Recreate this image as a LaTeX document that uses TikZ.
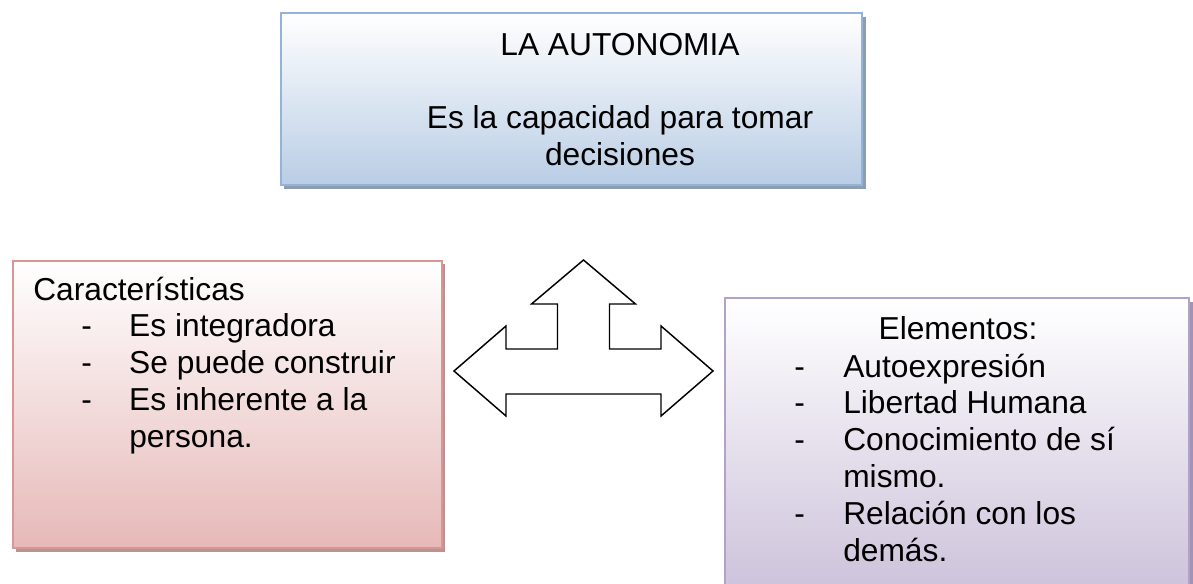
\documentclass[tikz,border=0pt]{standalone}
\usepackage{fontspec}
\setmainfont{Liberation Sans}
\usetikzlibrary{positioning}

\definecolor{autoborder}{HTML}{95B3D7}
\definecolor{autofill}{HTML}{B9CDE5}
\definecolor{autoshadow}{HTML}{8E9DB2}
\definecolor{caracborder}{HTML}{D99694}
\definecolor{caracfill}{HTML}{E6B9B8}
\definecolor{caracshadow}{HTML}{B59496}
\definecolor{elemborder}{HTML}{B3A2C7}
\definecolor{elemfill}{HTML}{CCC1DA}
\definecolor{elemshadow}{HTML}{A093B3}

\newcommand{\guion}[1]{\makebox[#1][l]{-}}

\tikzset{
  box/.style={draw=#1border, line width=1.6pt, top color=white, bottom color=#1fill},
  boxshadow/.style={fill=#1shadow},
  label text/.style={inner sep=0pt, font=\fontsize{23.8pt}{27.6pt}\selectfont},
  block arrow/.style={draw=black, fill=white, line width=1.1pt, line join=miter}
}

\begin{document}
\begin{tikzpicture}[x=0.75pt, y=-0.75pt]
    \useasboundingbox (0,0) rectangle (1193,583);

    % top box
    \fill[boxshadow=auto] (284,17) rectangle (866,189);
    \draw[box=auto] (281,13) rectangle (862,185);
    \node[label text, anchor=base] (autonomia) at (620,55)
      {\begin{tabular}[t]{@{}c@{}}LA AUTONOMIA\\ \\ Es la capacidad para tomar\\ decisiones\end{tabular}};

    % left box
    \fill[boxshadow=carac] (16,264) rectangle (445,552);
    \draw[box=carac] (13,261) rectangle (442,548);
    \node[label text, anchor=base west] (caracteristicas) at (33,300)
      {\begin{tabular}[t]{@{}l@{}l@{}}
        \multicolumn{2}{@{}l@{}}{Características}\\
        \hspace*{36pt}\guion{36pt} & Es integradora\\
        \hspace*{36pt}\guion{36pt} & Se puede construir\\
        \hspace*{36pt}\guion{36pt} & Es inherente a la\\
        & persona.
      \end{tabular}};

    % right box
    \fill[boxshadow=elem] (728,302) rectangle (1193,600);
    \draw[box=elem] (725,298) rectangle (1189,596);
    \node[label text, anchor=base] (elementos) at (958,339) {Elementos:};
    \node[label text, anchor=base west] (listaelementos) at (794,377)
      {\begin{tabular}[t]{@{}l@{}l@{}}
        \guion{36.75pt} & Autoexpresión\\
        \guion{36.75pt} & Libertad Humana\\
        \guion{36.75pt} & Conocimiento de sí\\
        & mismo.\\
        \guion{36.75pt} & Relación con los\\
        & demás.
      \end{tabular}};

    % three way block arrow
    \coordinate (C) at (583.5,371);
    \pgfmathsetmacro{\tipX}{129.5}  % side tips
    \pgfmathsetmacro{\headX}{77.5}  % side head base
    \pgfmathsetmacro{\stem}{26}     % half width of up stem
    \pgfmathsetmacro{\upHead}{52}   % half width of up head
    \draw[block arrow] (C) ++(0,-111) -- ++(\upHead,44) -- ++(-\upHead+\stem,0)
      -- ++(0,45) -- ++(\headX-\stem,0) -- ++(0,-23) -- ++(\tipX-\headX,45)
      -- ++(-\tipX+\headX,45) -- ++(0,-22) -- ++(-2*\headX,0) -- ++(0,22)
      -- ++(-\tipX+\headX,-45) -- ++(\tipX-\headX,-45) -- ++(0,23)
      -- ++(\headX-\stem,0) -- ++(0,-45) -- ++(\stem-\upHead,0) -- cycle;
\end{tikzpicture}
\end{document}
